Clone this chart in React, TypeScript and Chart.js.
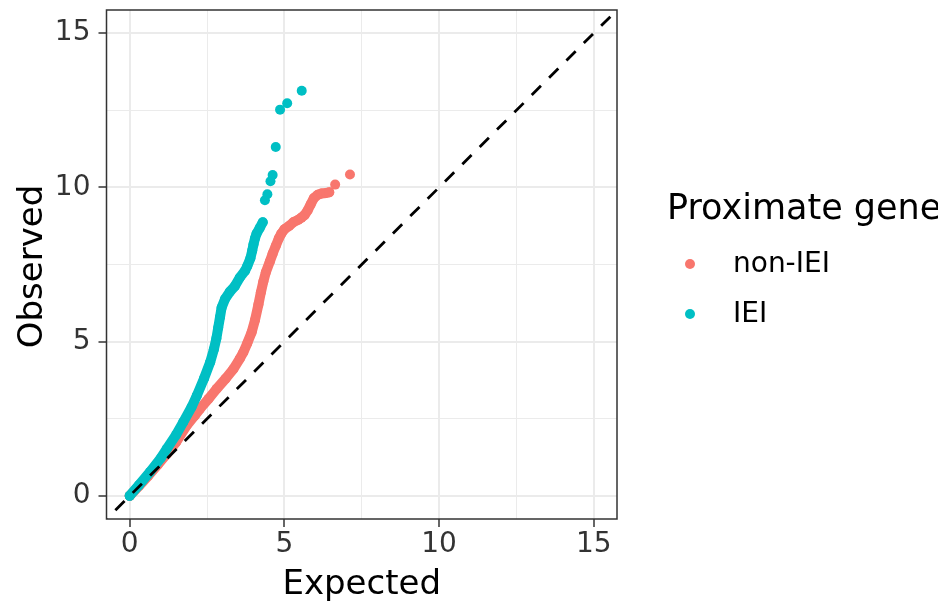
import React, { useEffect, useRef } from 'react';
import { Chart, registerables } from 'chart.js';

Chart.register(...registerables);

const FONT = "'DejaVu Sans', 'Noto Sans', sans-serif";

// Axis setup
const axisMin = -0.75;
const axisMax = 15.75;
const majorTicks = [0, 5, 10, 15];
const minorTicks = [2.5, 7.5, 12.5];

// Legend / series
const seriesNames = ['non-IEI', 'IEI'];
const seriesColors = ['#F8766D', '#00BFC4'];
const legendTitle = 'Proximate gene';
const xTitle = 'Expected';
const yTitle = 'Observed';

// non-IEI: dense part of the QQ curve (expected, observed)
const nonIeiExpected = [0, 0.3, 0.6, 0.9, 1.2, 1.5, 1.84, 2.1, 2.27, 2.55, 2.81, 3.1, 3.35, 3.56, 3.67, 3.8, 3.94, 4.05, 4.16, 4.24, 4.32, 4.4, 4.53, 4.62, 4.72, 4.82, 4.9, 5.0, 5.15, 5.3, 5.45, 5.55, 5.65, 5.75, 5.85, 5.95, 6.08, 6.2, 6.35, 6.45];
const nonIeiObserved = [0, 0.32, 0.65, 1.0, 1.36, 1.74, 2.28, 2.6, 2.82, 3.15, 3.47, 3.8, 4.11, 4.45, 4.65, 4.95, 5.3, 5.7, 6.2, 6.6, 6.95, 7.25, 7.6, 7.85, 8.1, 8.35, 8.5, 8.64, 8.75, 8.88, 8.95, 9.02, 9.1, 9.25, 9.45, 9.65, 9.76, 9.8, 9.82, 9.84];
// non-IEI: isolated top points
const nonIeiTailExpected = [6.64, 7.12];
const nonIeiTailObserved = [10.09, 10.42];

// IEI: dense part
const ieiExpected = [0, 0.3, 0.66, 1.0, 1.2, 1.5, 1.73, 2.0, 2.17, 2.4, 2.6, 2.72, 2.8, 2.86, 2.92, 2.97, 3.08, 3.24, 3.4, 3.56, 3.73, 3.8, 3.9, 3.96, 4.0, 4.05, 4.1, 4.2, 4.3];
const ieiObserved = [0, 0.35, 0.78, 1.22, 1.53, 1.98, 2.39, 2.88, 3.25, 3.8, 4.33, 4.75, 5.1, 5.45, 5.8, 6.1, 6.38, 6.62, 6.8, 7.08, 7.3, 7.45, 7.7, 7.95, 8.15, 8.35, 8.5, 8.68, 8.87];
// IEI: isolated top points
const ieiTailExpected = [4.37, 4.45, 4.55, 4.62, 4.72, 4.86, 5.09, 5.56];
const ieiTailObserved = [9.58, 9.78, 10.2, 10.4, 11.31, 12.52, 12.73, 13.13];

// Reference line y = x
const diagonalValues = [axisMin, axisMax];

const toPoints = (xs: number[], ys: number[]) => xs.map((x, i) => ({ x, y: ys[i] }));

const decorPlugin = {
  id: 'decor',
  afterDraw(chart: any) {
    const { ctx, chartArea } = chart;
    const { left, right, top, bottom } = chartArea;
    ctx.save();
    // panel border
    ctx.strokeStyle = '#333333';
    ctx.lineWidth = 1.5;
    ctx.strokeRect(left, top, right - left, bottom - top);

    // axis titles
    ctx.fillStyle = '#000000';
    ctx.font = `34px ${FONT}`;
    ctx.textAlign = 'center';
    ctx.textBaseline = 'alphabetic';
    ctx.fillText(xTitle, (left + right) / 2, 594);
    ctx.save();
    ctx.translate(42, (top + bottom) / 2 + 2);
    ctx.rotate(-Math.PI / 2);
    ctx.fillText(yTitle, 0, 0);
    ctx.restore();

    // legend
    ctx.textAlign = 'left';
    ctx.font = `35px ${FONT}`;
    ctx.fillText(legendTitle, 667, 219);
    ctx.font = `28px ${FONT}`;
    const itemY = [264, 314];
    seriesNames.forEach((name, i) => {
      ctx.fillStyle = seriesColors[i];
      ctx.beginPath();
      ctx.arc(690, itemY[i], 5, 0, Math.PI * 2);
      ctx.fill();
      ctx.fillStyle = '#000000';
      ctx.textBaseline = 'middle';
      ctx.fillText(name, 733, itemY[i] + 1);
    });
    ctx.restore();
  },
};

const makeScale = (isX: boolean) => ({
  type: 'linear' as const,
  min: axisMin,
  max: axisMax,
  afterBuildTicks(scale: any) {
    scale.ticks = [...majorTicks, ...minorTicks].sort((a, b) => a - b).map((v) => ({ value: v }));
  },
  afterFit(scale: any) {
    if (isX) {
      scale.height = 82;
      scale.paddingLeft = 0;
      scale.paddingRight = 0;
    } else {
      scale.width = 106.5;
      scale.paddingTop = 0;
      scale.paddingBottom = 0;
    }
  },
  border: { display: false },
  grid: {
    color: '#EBEBEB',
    lineWidth: (c: any) => (majorTicks.includes(c.tick?.value) ? 2 : 1),
    drawTicks: true,
    tickLength: 8,
    tickWidth: 1.5,
    tickColor: (c: any) => (majorTicks.includes(c.tick?.value) ? '#333333' : 'rgba(0,0,0,0)'),
  },
  ticks: {
    autoSkip: false,
    maxRotation: 0,
    padding: isX ? 1 : 8,
    color: '#333333',
    font: { family: FONT, size: 28 },
    callback: (v: any) => (majorTicks.includes(Number(v)) ? String(v) : ''),
  },
});

export default function App() {
  const canvasRef = useRef<HTMLCanvasElement | null>(null);

  useEffect(() => {
    if (!canvasRef.current) return;
    const chart = new Chart(canvasRef.current, {
      type: 'scatter',
      data: {
        datasets: [
          {
            label: 'y = x',
            data: toPoints(diagonalValues, diagonalValues),
            showLine: true,
            borderColor: '#000000',
            borderWidth: 2.8,
            borderDash: [13, 11.5],
            borderDashOffset: 12,
            pointRadius: 0,
            order: 0,
          },
          {
            label: seriesNames[1],
            data: toPoints(ieiExpected, ieiObserved),
            showLine: true,
            borderColor: seriesColors[1],
            backgroundColor: seriesColors[1],
            borderWidth: 10,
            borderCapStyle: 'round',
            borderJoinStyle: 'round',
            pointRadius: 5,
            pointBorderWidth: 0,
            order: 1,
          },
          {
            label: seriesNames[1] + ' tail',
            data: toPoints(ieiTailExpected, ieiTailObserved),
            backgroundColor: seriesColors[1],
            pointRadius: 5,
            pointBorderWidth: 0,
            order: 1,
          },
          {
            label: seriesNames[0],
            data: toPoints(nonIeiExpected, nonIeiObserved),
            showLine: true,
            borderColor: seriesColors[0],
            backgroundColor: seriesColors[0],
            borderWidth: 10,
            borderCapStyle: 'round',
            borderJoinStyle: 'round',
            pointRadius: 5,
            pointBorderWidth: 0,
            order: 2,
          },
          {
            label: seriesNames[0] + ' tail',
            data: toPoints(nonIeiTailExpected, nonIeiTailObserved),
            backgroundColor: seriesColors[0],
            pointRadius: 5,
            pointBorderWidth: 0,
            order: 2,
          },
        ],
      },
      options: {
        animation: false,
        responsive: true,
        maintainAspectRatio: false,
        layout: { padding: { left: 0, top: 10, right: 321, bottom: 0 } },
        plugins: {
          legend: { display: false },
          tooltip: { enabled: false },
          title: { display: false },
        },
        scales: {
          x: makeScale(true),
          y: makeScale(false),
        },
      },
      plugins: [decorPlugin],
    });
    return () => chart.destroy();
  }, []);

  return (
    <div style={{ position: 'fixed', left: 0, top: 0, width: 938, height: 601, background: '#ffffff' }}>
      <canvas ref={canvasRef} />
    </div>
  );
}
